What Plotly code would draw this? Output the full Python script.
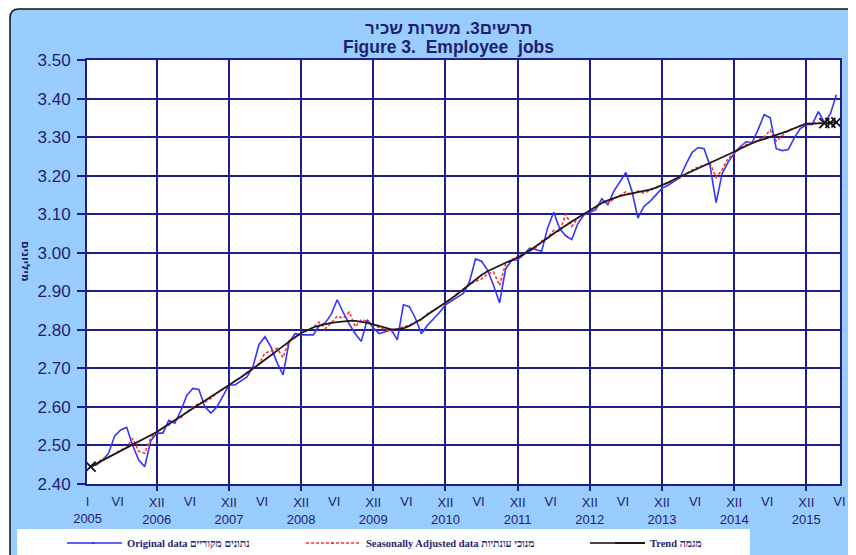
import plotly.graph_objects as go

# ---------------- data (monthly, Jan 2005 - May 2015, millions) ----------------
original = [
    2.445, 2.450, 2.462, 2.480, 2.525, 2.540, 2.547, 2.500, 2.462, 2.445, 2.512, 2.532,  # 2005
    2.532, 2.565, 2.558, 2.590, 2.630, 2.648, 2.645, 2.600, 2.584, 2.600, 2.628, 2.657,  # 2006
    2.657, 2.668, 2.678, 2.705, 2.762, 2.782, 2.755, 2.715, 2.683, 2.768, 2.790, 2.787,  # 2007
    2.787, 2.787, 2.810, 2.818, 2.840, 2.878, 2.845, 2.815, 2.790, 2.770, 2.826, 2.805,  # 2008
    2.790, 2.796, 2.800, 2.774, 2.865, 2.860, 2.830, 2.790, 2.812, 2.828, 2.845, 2.865,  # 2009
    2.875, 2.885, 2.895, 2.925, 2.984, 2.978, 2.955, 2.915, 2.870, 2.958, 2.980, 2.982,  # 2010
    2.995, 3.012, 3.008, 3.004, 3.065, 3.105, 3.062, 3.044, 3.034, 3.075, 3.098, 3.105,  # 2011
    3.112, 3.140, 3.125, 3.160, 3.185, 3.208, 3.160, 3.090, 3.120, 3.133, 3.150, 3.167,  # 2012
    3.175, 3.185, 3.195, 3.230, 3.260, 3.273, 3.270, 3.225, 3.130, 3.205, 3.235, 3.258,  # 2013
    3.275, 3.288, 3.286, 3.320, 3.358, 3.350, 3.270, 3.265, 3.268, 3.298, 3.322, 3.332,  # 2014
    3.333, 3.366, 3.338, 3.360, 3.410,                                                   # 2015
]

seasonally_adjusted = [
    2.445, 2.452, 2.466, 2.470, 2.478, 2.488, 2.495, 2.518, 2.485, 2.480, 2.520, 2.536,  # 2005
    2.545, 2.553, 2.566, 2.572, 2.588, 2.598, 2.610, 2.612, 2.622, 2.636, 2.645, 2.655,  # 2006
    2.668, 2.676, 2.690, 2.698, 2.712, 2.740, 2.745, 2.752, 2.728, 2.772, 2.780, 2.793,  # 2007
    2.798, 2.806, 2.820, 2.803, 2.818, 2.835, 2.830, 2.846, 2.808, 2.826, 2.822, 2.812,  # 2008
    2.806, 2.800, 2.795, 2.803, 2.808, 2.812, 2.820, 2.826, 2.842, 2.850, 2.860, 2.870,  # 2009
    2.882, 2.892, 2.905, 2.918, 2.926, 2.932, 2.945, 2.950, 2.915, 2.972, 2.982, 2.990,  # 2010
    2.998, 3.005, 3.012, 3.030, 3.040, 3.058, 3.055, 3.100, 3.068, 3.090, 3.100, 3.110,  # 2011
    3.118, 3.132, 3.128, 3.140, 3.150, 3.158, 3.150, 3.160, 3.155, 3.162, 3.170, 3.176,  # 2012
    3.182, 3.188, 3.195, 3.205, 3.215, 3.222, 3.228, 3.232, 3.195, 3.215, 3.245, 3.258,  # 2013
    3.270, 3.280, 3.285, 3.292, 3.300, 3.318, 3.290, 3.305, 3.318, 3.322, 3.330, 3.335,  # 2014
    3.335, 3.338, 3.336, 3.340, 3.345,                                                   # 2015
]

trend = [
    2.445, 2.453, 2.461, 2.469, 2.477, 2.485, 2.493, 2.501, 2.509, 2.517, 2.526, 2.535,  # 2005
    2.545, 2.555, 2.565, 2.575, 2.585, 2.595, 2.605, 2.616, 2.626, 2.636, 2.646, 2.657,  # 2006
    2.667, 2.677, 2.688, 2.699, 2.710, 2.722, 2.734, 2.746, 2.758, 2.770, 2.781, 2.791,  # 2007
    2.799, 2.806, 2.811, 2.815, 2.818, 2.820, 2.822, 2.823, 2.823, 2.821, 2.818, 2.814,  # 2008
    2.809, 2.804, 2.801, 2.801, 2.804, 2.810, 2.818, 2.828, 2.839, 2.849, 2.859, 2.869,  # 2009
    2.881, 2.893, 2.905, 2.918, 2.931, 2.942, 2.952, 2.960, 2.967, 2.974, 2.980, 2.987,  # 2010
    2.996, 3.006, 3.016, 3.027, 3.038, 3.050, 3.061, 3.071, 3.081, 3.091, 3.101, 3.111,  # 2011
    3.120, 3.129, 3.136, 3.142, 3.147, 3.151, 3.154, 3.157, 3.160, 3.164, 3.169, 3.175,  # 2012
    3.182, 3.190, 3.197, 3.204, 3.212, 3.219, 3.226, 3.233, 3.240, 3.247, 3.255, 3.262,  # 2013
    3.270, 3.278, 3.284, 3.290, 3.295, 3.300, 3.305, 3.310, 3.316, 3.323, 3.330, 3.335,  # 2014
    3.335, 3.335, 3.336, 3.337, 3.338,                                                   # 2015
]

# trend points flagged with an X marker (first month and the last provisional months)
trend_marked = [0, 122, 123, 124]

years = ["2005", "2006", "2007", "2008", "2009", "2010", "2011", "2012", "2013", "2014", "2015"]
month_roman = {0: "I", 5: "VI", 11: "XII"}

series_names = [
    "Original data נתונים מקוריים",
    "Seasonally Adjusted data מנוכי עונתיות",
    "Trend מגמה",
]
title_he = "תרשים3. משרות שכיר"
title_en = "Figure 3.\u00a0 Employee\u00a0 jobs"
y_title = "מיליונים"

# ---------------- derived axis positions ----------------
month_index = list(range(len(original)))
xii_pos = [m for m in month_index if m % 12 == 11]
xii_text = [month_roman[11] + "<br>" + years[k + 1] for k in range(len(xii_pos))]
vi_pos = [m - 0.5 for m in month_index if m % 12 == 5] + [month_index[-1] + 0.5]
vi_text = [month_roman[5]] * len(vi_pos)
minor_pos = [-0.5] + vi_pos
minor_text = [month_roman[0] + "<br>" + years[0]] + vi_text
x_range = [-0.6, month_index[-1] + 0.6]

NAVY = "#1f1f8c"
TEXT = "#1f1f6e"
SKY = "#99ccff"
COLORS = ["#3535f5", "#ff3030", "#1a1a1a"]
DASHES = ["solid", "3px,2px", "solid"]

# page offset: the page body adds an 8px margin around the figure
OFF = 8
W, H = 856, 555
ML, MR, MT, MB = 79, 24, 52, 79
PW, PH = W - ML - MR, H - MT - MB


def px(xp, yp):
    """page pixel -> paper coordinates"""
    fx, fy = xp - OFF, yp - OFF
    return (fx - ML) / PW, (H - MB - fy) / PH


def pt(xp, yp):
    x, y = px(xp, yp)
    return f"{x:.5f},{y:.5f}"


fig = go.Figure()
fig.add_trace(go.Scatter(
    x=month_index, y=original, mode="lines", name=series_names[0],
    line=dict(color=COLORS[0], width=1.6), legend="legend"))
fig.add_trace(go.Scatter(
    x=month_index, y=seasonally_adjusted, mode="lines", name=series_names[1],
    line=dict(color=COLORS[1], width=1.6, dash=DASHES[1]), legend="legend2"))
fig.add_trace(go.Scatter(
    x=month_index, y=trend, mode="lines", name=series_names[2],
    line=dict(color=COLORS[2], width=1.8), legend="legend3"))
fig.add_trace(go.Scatter(
    x=[month_index[i] for i in trend_marked], y=[trend[i] for i in trend_marked],
    xaxis="x2", yaxis="y",
    mode="markers", showlegend=False, hoverinfo="skip",
    marker=dict(symbol="x-thin", size=10, color="#111", line=dict(color="#111", width=1.8))))

tickfont_x = dict(family="Liberation Sans, Arial", size=13, color=TEXT)

fig.update_layout(
    width=W, height=H,
    margin=dict(l=ML, r=MR, t=MT, b=MB, autoexpand=False),
    paper_bgcolor="white", plot_bgcolor="white",
    xaxis=dict(
        range=x_range, tickmode="array", tickvals=xii_pos, ticktext=xii_text,
        showgrid=True, gridcolor=NAVY, gridwidth=2,
        showline=True, linecolor=NAVY, linewidth=2, mirror=True,
        ticks="outside", ticklen=5, tickwidth=2, tickcolor=NAVY,
        tickfont=tickfont_x, zeroline=False, automargin=False),
    xaxis2=dict(
        range=x_range, overlaying="x", anchor="y", side="bottom",
        tickmode="array", tickvals=minor_pos, ticktext=minor_text,
        showgrid=False, showline=False, zeroline=False,
        ticks="outside", ticklen=5, tickwidth=2, tickcolor="rgba(0,0,0,0)",
        tickfont=tickfont_x, automargin=False),
    yaxis=dict(
        range=[2.40, 3.50], tick0=2.4, dtick=0.1, tickformat=".2f",
        showgrid=True, gridcolor=NAVY, gridwidth=2,
        showline=True, linecolor=NAVY, linewidth=2, mirror=True,
        ticks="outside", ticklen=8, tickwidth=2, tickcolor=NAVY,
        ticklabelstandoff=3,
        tickfont=dict(family="Liberation Sans, Arial", size=17, color=TEXT),
        zeroline=False, automargin=False),
    showlegend=True,
)

legend_font = dict(family="Liberation Serif, Times New Roman", size=10.5, color=TEXT, weight="bold")
legend_y = px(0, 543)[1]
legend_x = [87, 326, 610]
for key, xpix in zip(("legend", "legend2", "legend3"), legend_x):
    fig.update_layout(**{key: dict(
        x=px(xpix, 0)[0], y=legend_y, xanchor="left", yanchor="middle",
        orientation="h", bgcolor="rgba(0,0,0,0)", borderwidth=0, font=legend_font)})

# background frame, legend box, plot area
frame_path = (f"M{pt(10, 590)} L{pt(10, 18)} Q{pt(10, 9)} {pt(19, 9)} "
              f"L{pt(900, 9)} L{pt(900, 590)} Z")
lx0, ly0 = px(17, 529)
lx1, ly1 = px(750, 600)
shapes = [
    dict(type="path", path=frame_path, xref="paper", yref="paper",
         fillcolor=SKY, line=dict(color="#111", width=1.5), layer="below"),
    dict(type="rect", xref="paper", yref="paper", x0=lx0, y0=ly1, x1=lx1, y1=ly0,
         fillcolor="white", line=dict(width=0), layer="below"),
    dict(type="rect", xref="paper", yref="paper", x0=0, y0=0, x1=1, y1=1,
         fillcolor="white", line=dict(width=0), layer="below"),
]
# lengthen the legend line samples to the reference's ~55px
for xpix, col, dash in zip(legend_x, COLORS, DASHES):
    sx0, sy = px(xpix - 20, 543)
    sx1, _ = px(xpix + 8, 543)
    shapes.append(dict(type="line", xref="paper", yref="paper", x0=sx0, x1=sx1, y0=sy, y1=sy,
                       line=dict(color=col, width=1.6, dash=dash)))
fig.update_layout(shapes=shapes)

tx, _ = px(448, 0)
fig.add_annotation(text=title_he, xref="paper", yref="paper", x=tx, y=px(0, 29)[1],
                   showarrow=False, xanchor="center", yanchor="middle",
                   font=dict(family="Liberation Sans, Arial", size=17, color=TEXT, weight="bold"))
fig.add_annotation(text=title_en, xref="paper", yref="paper", x=tx, y=px(0, 47)[1],
                   showarrow=False, xanchor="center", yanchor="middle",
                   font=dict(family="Liberation Sans, Arial", size=17.5, color=TEXT, weight="bold"))
yx, yy = px(26, 261)
fig.add_annotation(text=y_title, xref="paper", yref="paper", x=yx, y=yy,
                   showarrow=False, textangle=90, xanchor="center", yanchor="middle",
                   font=dict(family="DejaVu Sans, Liberation Sans", size=11, color=TEXT, weight="bold"))

fig.write_html("out.html")
